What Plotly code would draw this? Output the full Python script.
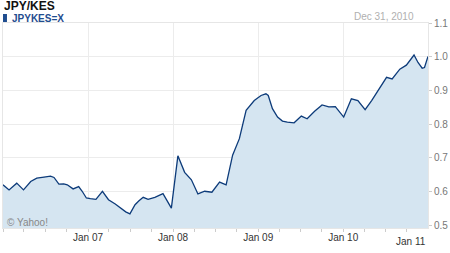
import plotly.graph_objects as go

dates = ["2006-01-01","2006-01-27","2006-03-01","2006-03-30","2006-04-30","2006-05-26","2006-06-26",
 "2006-07-24","2006-08-08","2006-08-29","2006-09-19","2006-10-04","2006-10-29","2006-11-22","2006-12-07",
 "2006-12-25","2007-01-11","2007-02-04","2007-03-04","2007-03-30","2007-04-28","2007-05-26","2007-06-12",
 "2007-06-30","2007-07-22","2007-08-08","2007-08-26","2007-09-16","2007-10-15","2007-11-19","2007-12-08",
 "2007-12-25","2008-01-22","2008-02-20","2008-03-20","2008-04-17","2008-05-16","2008-06-16","2008-07-19",
 "2008-08-16","2008-09-13","2008-10-12","2008-11-10","2008-12-15","2009-01-13","2009-02-03","2009-02-13",
 "2009-03-03","2009-03-25","2009-04-15","2009-05-06","2009-06-04","2009-07-05","2009-07-30","2009-08-31",
 "2009-10-02","2009-10-31","2009-11-28","2010-01-03","2010-02-05","2010-03-05","2010-04-05","2010-05-03",
 "2010-06-08","2010-07-06","2010-07-30","2010-09-01","2010-09-29","2010-11-01","2010-11-18","2010-12-06",
 "2010-12-16","2010-12-31"]
rates = [0.620,0.605,0.625,0.605,0.630,0.640,0.643,0.646,0.642,0.622,0.623,0.620,0.608,0.615,0.601,
 0.581,0.579,0.577,0.601,0.576,0.563,0.549,0.540,0.534,0.561,0.573,0.583,0.577,0.583,0.594,0.571,
 0.551,0.706,0.657,0.635,0.593,0.601,0.598,0.628,0.620,0.708,0.757,0.841,0.870,0.885,0.890,0.885,
 0.846,0.821,0.809,0.806,0.804,0.824,0.816,0.838,0.857,0.851,0.852,0.821,0.875,0.870,0.843,0.870,
 0.909,0.939,0.934,0.963,0.975,1.005,0.983,0.966,0.968,1.001]

x_tick_vals = ["2007-01-01","2008-01-01","2009-01-01","2010-01-01"]
x_tick_text = ["Jan 07","Jan 08","Jan 09","Jan 10"]
y_tick_vals = [0.5,0.6,0.7,0.8,0.9,1.0,1.1]
y_tick_text = ["0.5","0.6","0.7","0.8","0.9","1.0","1.1"]

W, H = 450, 253
pl, pr, pt, pb = 2, 20, 23, 25
pw, ph = W - pl - pr, H - pt - pb

def px2paper(px, py):
    return (px - pl) / pw, 1 - (py - pt) / ph

fig = go.Figure()
fig.add_trace(go.Scatter(x=dates, y=rates, mode="lines", fill="tozeroy",
                         line=dict(color="#0d3b7a", width=1.3),
                         fillcolor="#d5e5f1", hoverinfo="skip"))

fig.update_layout(
    width=W, height=H,
    margin=dict(l=pl, r=pr, t=pt, b=pb),
    paper_bgcolor="white", plot_bgcolor="white",
    showlegend=False,
    font=dict(family="Arial, Liberation Sans, sans-serif", size=10, color="#333"),
    xaxis=dict(range=["2006-01-01","2010-12-31"], tickvals=x_tick_vals, ticktext=x_tick_text,
               showgrid=True, gridcolor="#ececec", gridwidth=1,
               ticks="", tickfont=dict(size=10, color="#333"),
               showline=True, linecolor="#e6e6e6", mirror=True, zeroline=False,
               minor=dict(dtick="M3", ticks="outside", ticklen=3, tickcolor="#cccccc", showgrid=False)),
    yaxis=dict(range=[0.492, 1.1], side="right", tickvals=y_tick_vals, ticktext=y_tick_text,
               showgrid=True, gridcolor="#ececec", gridwidth=1,
               ticks="outside", ticklen=3, tickcolor="#cccccc",
               tickfont=dict(size=10, color="#777"),
               showline=True, linecolor="#e6e6e6", mirror=True, zeroline=False),
)

annots = [
    dict(text="<b>JPY/KES</b>", x=1, y=6.5, size=12, color="#111", xanchor="left"),
    dict(text="<b>JPYKES=X</b>", x=9, y=19, size=10, color="#1f4d8f", xanchor="left"),
    dict(text="Dec 31, 2010", x=418, y=16.5, size=10, color="#b0b0b0", xanchor="right"),
    dict(text="© Yahoo!", x=4, y=222, size=10, color="#888", xanchor="left"),
    dict(text="Jan 11", x=413, y=241, size=10, color="#333", xanchor="center"),
]
for a in annots:
    ax, ay = px2paper(a["x"], a["y"])
    fig.add_annotation(x=ax, y=ay, xref="paper", yref="paper", text=a["text"],
                       showarrow=False, xanchor=a["xanchor"], yanchor="middle",
                       font=dict(size=a["size"], color=a["color"]))

x0, y0 = px2paper(2, 14)
x1, y1 = px2paper(6, 22)
fig.add_shape(type="rect", xref="paper", yref="paper", x0=x0, x1=x1, y0=y0, y1=y1,
              fillcolor="#1f4d8f", line=dict(width=0))

fig.write_html("out.html")
